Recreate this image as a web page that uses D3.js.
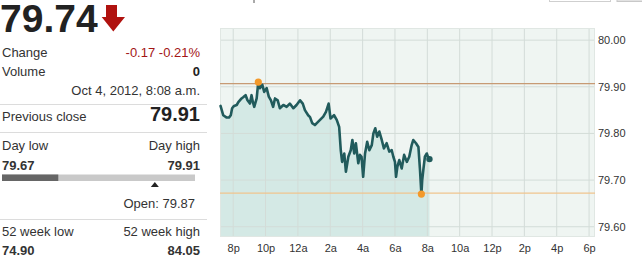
<!DOCTYPE html>
<html>
<head>
<meta charset="utf-8">
<script src="https://cdn.jsdelivr.net/npm/d3@7"></script>
<style>
  body { margin: 0; background: #fff; }
  svg { display: block; font-family: Arial, "Liberation Sans", sans-serif; }
</style>
</head>
<body>
<svg id="chart" width="642" height="260"></svg>
<script>
// quote
var lastPrice = 79.74, change = -0.17, changePct = -0.21, volume = 0;
var stamp = "Oct 4, 2012, 8:08 a.m.";
var prevClose = 79.91, dayLow = 79.67, dayHigh = 79.91, openPrice = 79.87;
var weekLow = 74.90, weekHigh = 84.05;

// intraday series, Oct 3 evening -> Oct 4 morning
var times = ["19:13","19:23","19:36","19:44","19:51","19:56","20:03","20:13","20:19","20:31",
  "20:38","20:46","20:53","21:02","21:08","21:13","21:18","21:27","21:33","21:39",
  "21:48","21:55","22:04","22:12","22:20","22:28","22:35","22:45","22:53","23:06",
  "23:18","23:30","23:43","23:55","00:08","00:18","00:26","00:38","00:45","00:53",
  "01:03","01:10","01:22","01:34","01:44","01:54","02:01","02:14","02:24","02:33",
  "02:39","02:44","02:52","02:58","03:07","03:16","03:22","03:29","03:35","03:44",
  "03:50","03:56","04:02","04:09","04:17","04:25","04:34","04:40","04:47","04:54",
  "05:02","05:11","05:19","05:29","05:39","05:48","05:54","06:00","06:04","06:09",
  "06:16","06:25","06:34","06:44","06:53","07:02","07:08","07:18","07:27","07:33",
  "07:38","07:41","07:45","07:51","07:58","08:04","08:08"];
var prices = [79.859,79.839,79.834,79.834,79.839,79.854,79.859,79.861,79.867,79.875,
  79.878,79.882,79.871,79.864,79.882,79.867,79.857,79.875,79.910,79.897,
  79.904,79.889,79.897,79.879,79.871,79.857,79.875,79.871,79.854,79.861,
  79.857,79.864,79.854,79.861,79.871,79.864,79.850,79.839,79.835,79.822,
  79.818,79.822,79.829,79.836,79.846,79.864,79.832,79.839,79.829,79.814,
  79.764,79.739,79.757,79.718,79.750,79.764,79.786,79.757,79.779,79.736,
  79.754,79.750,79.707,79.757,79.782,79.764,79.775,79.800,79.811,79.793,
  79.804,79.786,79.768,79.779,79.761,79.764,79.750,79.739,79.707,79.729,
  79.743,79.725,79.754,79.739,79.750,79.775,79.786,79.779,79.771,79.721,
  79.670,79.700,79.721,79.750,79.757,79.747,79.745];

var yTicks = [80.00, 79.90, 79.80, 79.70, 79.60];
var domainStart = "2012-10-03 19:11", domainEnd = "2012-10-04 18:22";

var parse = d3.timeParse("%Y-%m-%d %H:%M");
var data = [], day = 3, prevHour = 99;
times.forEach(function(t, i) {
  var h = +t.split(":")[0];
  if (h < prevHour && prevHour !== 99 && h < 12 && prevHour >= 12) day = 4;
  prevHour = h;
  data.push({date: parse("2012-10-0" + day + " " + t), value: prices[i]});
});

var svg = d3.select("#chart");
var font = 'Arial, "Liberation Sans", sans-serif';

// ---------- left quote panel ----------
var panel = svg.append("g");
var panelRight = 200;

panel.append("text").attr("x", 0).attr("y", 32)
  .attr("font-size", 39).attr("font-weight", "bold").attr("fill", "#222")
  .text(lastPrice.toFixed(2));

// red down arrow
panel.append("path")
  .attr("d", "M106,5 H117 V17 H125 L113.3,31.5 L101.7,17 H106 Z")
  .attr("fill", "#b0120f");

function row(y, left, right, opts) {
  opts = opts || {};
  if (left) panel.append("text").attr("x", 2).attr("y", y)
    .attr("font-size", 13).attr("fill", "#333").text(left);
  if (right != null) panel.append("text").attr("x", opts.rx || panelRight).attr("y", y)
    .attr("text-anchor", "end")
    .attr("font-size", opts.size || 13)
    .attr("font-weight", opts.bold ? "bold" : "normal")
    .attr("fill", opts.color || "#333").text(right);
}
function sep(y) {
  panel.append("line").attr("x1", 0).attr("x2", 207).attr("y1", y).attr("y2", y)
    .attr("stroke", "#dcdcdc");
}

row(56.5, "Change", change.toFixed(2) + " " + changePct.toFixed(2) + "%", {color: "#a31515"});
row(75.5, "Volume", String(volume), {bold: true, color: "#222"});
row(95, null, stamp);
sep(104.5);
row(121, "Previous close", prevClose.toFixed(2), {bold: true, size: 20, color: "#222"});
sep(132.5);
row(150, "Day low", "Day high");
panel.append("text").attr("x", 2).attr("y", 169.5).attr("font-size", 13)
  .attr("font-weight", "bold").attr("fill", "#333").text(dayLow.toFixed(2));
row(169.5, null, dayHigh.toFixed(2), {bold: true});

// day range bar
var rangeX = d3.scaleLinear().domain([dayLow, dayHigh]).range([2, 195]);
panel.append("rect").attr("x", 2).attr("y", 174.5).attr("width", 193).attr("height", 6.5)
  .attr("fill", "#c9c9c9");
panel.append("rect").attr("x", 2).attr("y", 174.5)
  .attr("width", rangeX(lastPrice) - 2).attr("height", 6.5).attr("fill", "#666");
var ox = rangeX(openPrice) - 8;
panel.append("path")
  .attr("d", "M" + (ox - 4) + ",187 L" + ox + ",182 L" + (ox + 4) + ",187 Z")
  .attr("fill", "#222");
row(207.5, null, "Open: " + openPrice.toFixed(2), {rx: 195});
sep(219.5);
row(236, "52 week low", "52 week high");
panel.append("text").attr("x", 2).attr("y", 255).attr("font-size", 13)
  .attr("font-weight", "bold").attr("fill", "#333").text(weekLow.toFixed(2));
row(255, null, weekHigh.toFixed(2), {bold: true});

// clipped page bits at top
svg.append("line").attr("x1", 254).attr("x2", 254).attr("y1", 0).attr("y2", 3)
  .attr("stroke", "#555");
svg.append("rect").attr("x", 549.5).attr("y", -10).attr("width", 61).attr("height", 11.5)
  .attr("fill", "#fff").attr("stroke", "#cfcfcf");
svg.append("rect").attr("x", 617).attr("y", -10).attr("width", 30).attr("height", 11.5)
  .attr("fill", "#e2e2e2").attr("stroke", "#c8c8c8");

// ---------- chart ----------
var plot = {left: 220, top: 28, right: 595, bottom: 237};
var x = d3.scaleTime()
  .domain([parse(domainStart), parse(domainEnd)])
  .range([plot.left, plot.right]);
var y = d3.scaleLinear().domain([79.578, 80.026]).range([plot.bottom, plot.top]);

svg.append("rect")
  .attr("x", plot.left).attr("y", plot.top)
  .attr("width", plot.right - plot.left).attr("height", plot.bottom - plot.top)
  .attr("fill", "#eff5f2");

var area = d3.area()
  .x(function(d) { return x(d.date); })
  .y0(plot.bottom)
  .y1(function(d) { return y(d.value); });
svg.append("path").datum(data).attr("d", area).attr("fill", "#d4e9e5");

// grid
var xTicks = x.ticks(d3.timeHour.every(2));
svg.append("g").selectAll("line").data(xTicks).enter().append("line")
  .attr("x1", function(d) { return x(d); }).attr("x2", function(d) { return x(d); })
  .attr("y1", plot.top).attr("y2", plot.bottom)
  .attr("stroke", "#d3dcd8").attr("stroke-width", 1);
svg.append("g").selectAll("line").data(yTicks).enter().append("line")
  .attr("x1", plot.left).attr("x2", plot.right)
  .attr("y1", function(d) { return y(d); }).attr("y2", function(d) { return y(d); })
  .attr("stroke", "#d3dcd8").attr("stroke-width", 1);
svg.append("rect")
  .attr("x", plot.left + 0.5).attr("y", plot.top + 0.5)
  .attr("width", plot.right - plot.left - 1).attr("height", plot.bottom - plot.top - 1)
  .attr("fill", "none").attr("stroke", "#e0e7e3");

// previous close and day low lines
svg.append("line").attr("x1", plot.left).attr("x2", plot.right)
  .attr("y1", y(prevClose) + 1.5).attr("y2", y(prevClose) + 1.5)
  .attr("stroke", "#c79a74").attr("stroke-width", 1.3);
svg.append("line").attr("x1", plot.left).attr("x2", plot.right)
  .attr("y1", y(dayLow) - 1).attr("y2", y(dayLow) - 1)
  .attr("stroke", "#f0c48e").attr("stroke-width", 1.2);

var line = d3.line()
  .x(function(d) { return x(d.date); })
  .y(function(d) { return y(d.value); });
svg.append("path").datum(data).attr("d", line)
  .attr("fill", "none").attr("stroke", "#215b5c").attr("stroke-width", 2.6)
  .attr("stroke-linejoin", "round").attr("stroke-linecap", "round");

// high / low markers and last point
var hi = d3.greatest(data, function(d) { return d.value; });
var lo = d3.least(data, function(d) { return d.value; });
[hi, lo].forEach(function(d) {
  svg.append("circle").attr("cx", x(d.date)).attr("cy", y(d.value)).attr("r", 3.6)
    .attr("fill", "#f3992a");
});
var last = data[data.length - 1];
svg.append("circle").attr("cx", x(last.date)).attr("cy", y(last.value)).attr("r", 3.2)
  .attr("fill", "#215b5c");

// axes
var fmtHour = function(d) {
  var h = d.getHours();
  return (h % 12 || 12) + (h < 12 ? "a" : "p");
};
var xAxis = svg.append("g")
  .attr("transform", "translate(0," + plot.bottom + ")")
  .call(d3.axisBottom(x).ticks(d3.timeHour.every(2)).tickFormat(fmtHour).tickSize(0).tickPadding(6));
xAxis.select(".domain").remove();
xAxis.selectAll("text").attr("font-size", 11).attr("font-family", font).attr("fill", "#333")
  .attr("dy", "0.71em").attr("y", 7);

var yAxis = svg.append("g")
  .attr("transform", "translate(" + plot.right + ",0)")
  .call(d3.axisRight(y).tickValues(yTicks).tickFormat(d3.format(".2f")).tickSize(0).tickPadding(3));
yAxis.select(".domain").remove();
yAxis.selectAll("text").attr("font-size", 11).attr("font-family", font).attr("fill", "#333");
</script>
</body>
</html>
